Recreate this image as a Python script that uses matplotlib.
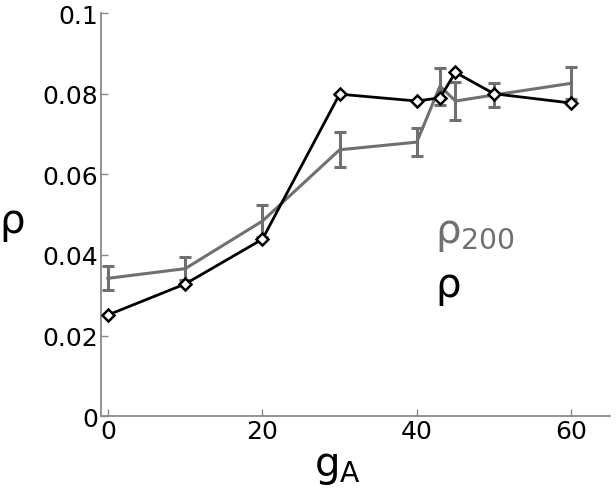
import matplotlib
matplotlib.use("Agg")
import matplotlib.pyplot as plt
import numpy as np

# values
g_a = [0, 10, 20, 30, 40, 43, 45, 50, 60]
rho = [0.0251, 0.0328, 0.0439, 0.0799, 0.0782, 0.0790, 0.0853, 0.0800, 0.0777]
rho200 = [0.0342, 0.0366, 0.0484, 0.0661, 0.0680, 0.0819, 0.0782, 0.0797, 0.0826]
rho200_err = [0.0030, 0.0028, 0.0040, 0.0043, 0.0035, 0.0046, 0.0046, 0.0030, 0.0040]

x_ticks = [0, 20, 40, 60]
y_ticks = [0, 0.02, 0.04, 0.06, 0.08, 0.1]
y_labels = ["0", "0.02", "0.04", "0.06", "0.08", "0.1"]

GRAY = "#707070"
SPINE = "#8a8a8a"

fig = plt.figure(figsize=(6.16, 4.89), dpi=100)
ax = fig.add_axes([0.164, 0.147, 0.826, 0.824])

ax.errorbar(g_a, rho200, yerr=rho200_err, color=GRAY, lw=2.2,
            capsize=4, capthick=2.2, elinewidth=2.2, zorder=2)
ax.plot(g_a, rho, color="black", lw=2.0, marker="D", markersize=6,
        markerfacecolor="white", markeredgecolor="black", markeredgewidth=1.8,
        zorder=3)

ax.text(42.3, 0.0455, r"$\mathregular{\rho_{200}}$", color=GRAY, fontsize=29,
        va="center", ha="left")
ax.text(42.3, 0.032, r"$\mathregular{\rho}$", color="black", fontsize=29,
        va="center", ha="left")

ax.set_xlim(-0.9, 65)
ax.set_ylim(0, 0.1)
ax.set_xticks(x_ticks)
ax.set_yticks(y_ticks)
ax.set_yticklabels(y_labels)

for s in ["top", "right"]:
    ax.spines[s].set_visible(False)
for s in ["left", "bottom"]:
    ax.spines[s].set_color(SPINE)
    ax.spines[s].set_linewidth(1.3)

ax.tick_params(direction="in", length=5, width=1, color=SPINE,
               labelsize=18, pad=2)

ax.set_xlabel(r"$\mathregular{g_A}$", fontsize=29, va="top")
ax.xaxis.set_label_coords(0.464, -0.074)
ax.set_ylabel(r"$\mathregular{\rho}$", fontsize=29, rotation=0,
              va="center", ha="center")
ax.yaxis.set_label_coords(-0.175, 0.48)

fig.savefig("out.png", dpi=100)
